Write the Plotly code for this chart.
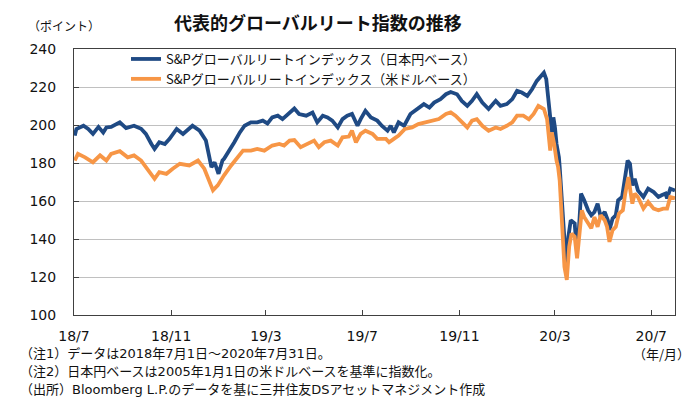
import plotly.graph_objects as go

# ---------------- data ----------------
jpy_dates = [
    "2018-07-02", "2018-07-04", "2018-07-13", "2018-07-19", "2018-07-25", "2018-08-01", "2018-08-07",
    "2018-08-11", "2018-08-17", "2018-08-28", "2018-09-05", "2018-09-15", "2018-09-24", "2018-09-30",
    "2018-10-07", "2018-10-11", "2018-10-17", "2018-10-24", "2018-10-30", "2018-11-08", "2018-11-16",
    "2018-11-28", "2018-12-07", "2018-12-15", "2018-12-22", "2018-12-26", "2018-12-31", "2019-01-05",
    "2019-01-07", "2019-01-14", "2019-01-20", "2019-01-27", "2019-02-02", "2019-02-10", "2019-02-18",
    "2019-02-25", "2019-03-03", "2019-03-09", "2019-03-16", "2019-03-22", "2019-03-31", "2019-04-06",
    "2019-04-12", "2019-04-21", "2019-04-29", "2019-05-05", "2019-05-12", "2019-05-18", "2019-05-24",
    "2019-05-31", "2019-06-06", "2019-06-12", "2019-06-18", "2019-06-25", "2019-06-29", "2019-07-05",
    "2019-07-12", "2019-07-20", "2019-07-26", "2019-08-02", "2019-08-06", "2019-08-10", "2019-08-16",
    "2019-08-23", "2019-08-31", "2019-09-09", "2019-09-17", "2019-09-24", "2019-09-30", "2019-10-08",
    "2019-10-15", "2019-10-21", "2019-10-29", "2019-11-04", "2019-11-11", "2019-11-17", "2019-11-23",
    "2019-11-30", "2019-12-08", "2019-12-17", "2019-12-23", "2019-12-31", "2020-01-07", "2020-01-13",
    "2020-01-19", "2020-01-26", "2020-02-01", "2020-02-07", "2020-02-16", "2020-02-19", "2020-02-21",
    "2020-02-24", "2020-02-26", "2020-02-28", "2020-03-01", "2020-03-03", "2020-03-06", "2020-03-07",
    "2020-03-09", "2020-03-11", "2020-03-13", "2020-03-15", "2020-03-18", "2020-03-21", "2020-03-26",
    "2020-03-28", "2020-03-31", "2020-04-03", "2020-04-07", "2020-04-12", "2020-04-16", "2020-04-20",
    "2020-04-24", "2020-04-28", "2020-05-03", "2020-05-07", "2020-05-09", "2020-05-13", "2020-05-17",
    "2020-05-20", "2020-05-25", "2020-05-28", "2020-06-01", "2020-06-04", "2020-06-07", "2020-06-10",
    "2020-06-14", "2020-06-21", "2020-06-27", "2020-07-04", "2020-07-10", "2020-07-14", "2020-07-19",
    "2020-07-21", "2020-07-25", "2020-07-31",
]
jpy_values = [
    194.4, 197.9, 199.6, 197.9, 195.3, 199.0, 196.0,
    198.7, 199.0, 201.4, 198.4, 199.6, 198.0, 195.3,
    190.0, 187.4, 190.9, 190.0, 192.7, 197.9, 195.3,
    199.6, 197.0, 191.8, 177.8, 180.4, 174.3, 181.3,
    182.2, 186.5, 190.9, 196.1, 199.6, 201.4, 201.4,
    202.3, 200.8, 204.0, 204.9, 203.1, 206.6, 208.7,
    205.8, 204.9, 206.6, 201.4, 204.9, 204.0, 202.3,
    198.7, 203.1, 204.9, 205.8, 199.6, 203.1, 207.5,
    204.0, 202.3, 199.5, 197.0, 199.6, 196.1, 201.4,
    199.6, 205.8, 208.4, 211.0, 209.2, 211.8, 213.6,
    216.2, 217.4, 216.2, 212.7, 210.1, 212.7, 216.2,
    211.8, 208.4, 212.7, 210.1, 211.0, 213.6, 218.0,
    217.1, 215.3, 218.8, 223.2, 227.5, 224.1, 214.5,
    205.8, 196.1, 204.0, 198.7, 190.0, 183.0, 177.8,
    163.9, 151.6, 141.2, 127.2, 141.2, 149.9, 148.2,
    136.8, 142.9, 163.9, 160.4, 155.1, 152.5, 154.2,
    158.6, 151.6, 154.2, 149.9, 144.7, 150.8, 152.5,
    160.4, 162.1, 170.8, 181.3, 179.6, 168.2, 171.7,
    165.6, 162.1, 166.5, 164.7, 162.1, 163.0, 163.9,
    161.3, 166.5, 165.5,
]

usd_dates = [
    "2018-07-02", "2018-07-06", "2018-07-15", "2018-07-25", "2018-08-03", "2018-08-11", "2018-08-17",
    "2018-08-28", "2018-09-07", "2018-09-15", "2018-09-24", "2018-10-02", "2018-10-11", "2018-10-17",
    "2018-10-26", "2018-11-03", "2018-11-12", "2018-11-24", "2018-12-05", "2018-12-13", "2018-12-20",
    "2018-12-24", "2018-12-30", "2019-01-05", "2019-01-07", "2019-01-16", "2019-01-24", "2019-01-31",
    "2019-02-10", "2019-02-18", "2019-02-27", "2019-03-09", "2019-03-18", "2019-03-24", "2019-03-31",
    "2019-04-06", "2019-04-14", "2019-04-23", "2019-05-01", "2019-05-07", "2019-05-14", "2019-05-22",
    "2019-05-31", "2019-06-06", "2019-06-14", "2019-06-18", "2019-06-23", "2019-06-29", "2019-07-05",
    "2019-07-14", "2019-07-20", "2019-07-31", "2019-08-04", "2019-08-10", "2019-08-16", "2019-08-24",
    "2019-09-02", "2019-09-10", "2019-09-19", "2019-09-27", "2019-10-06", "2019-10-15", "2019-10-21",
    "2019-10-27", "2019-11-04", "2019-11-11", "2019-11-17", "2019-11-23", "2019-11-30", "2019-12-08",
    "2019-12-17", "2019-12-23", "2019-12-31", "2020-01-07", "2020-01-13", "2020-01-21", "2020-01-28",
    "2020-02-03", "2020-02-09", "2020-02-16", "2020-02-20", "2020-02-24", "2020-02-26", "2020-02-29",
    "2020-03-03", "2020-03-05", "2020-03-07", "2020-03-09", "2020-03-11", "2020-03-13", "2020-03-16",
    "2020-03-19", "2020-03-22", "2020-03-26", "2020-03-29", "2020-04-01", "2020-04-04", "2020-04-07",
    "2020-04-12", "2020-04-16", "2020-04-20", "2020-04-24", "2020-04-28", "2020-05-03", "2020-05-06",
    "2020-05-09", "2020-05-13", "2020-05-17", "2020-05-21", "2020-05-26", "2020-05-29", "2020-06-02",
    "2020-06-05", "2020-06-07", "2020-06-10", "2020-06-14", "2020-06-21", "2020-06-27", "2020-07-04",
    "2020-07-10", "2020-07-16", "2020-07-21", "2020-07-25", "2020-07-31",
]
usd_values = [
    181.3, 184.8, 183.0, 180.4, 184.0, 181.3, 184.8,
    186.2, 183.0, 184.0, 181.3, 177.0, 171.7, 175.2,
    174.3, 177.0, 179.6, 178.7, 181.3, 177.0, 170.0,
    165.6, 168.2, 172.6, 173.5, 178.7, 183.0, 186.5,
    186.5, 187.4, 186.5, 189.2, 190.0, 189.2, 191.8,
    192.1, 188.3, 190.0, 191.8, 188.3, 190.9, 191.8,
    189.2, 193.5, 193.9, 197.0, 190.9, 195.3, 197.0,
    195.3, 192.7, 192.7, 190.9, 192.7, 194.4, 197.9,
    198.7, 200.5, 201.4, 202.3, 203.1, 205.8, 206.6,
    204.9, 201.4, 198.7, 202.3, 203.1, 199.6, 197.0,
    198.7, 197.9, 199.6, 201.4, 204.9, 204.9, 203.0,
    205.8, 210.1, 208.4, 203.1, 186.5, 196.1, 190.0,
    181.3, 177.8, 170.8, 156.9, 139.4, 125.4, 118.5,
    135.9, 142.9, 141.2, 129.8, 142.9, 155.1, 151.6,
    148.2, 145.6, 151.6, 146.4, 152.5, 149.9, 146.4,
    138.5, 144.7, 146.4, 153.4, 155.1, 163.9, 172.6,
    163.9, 158.6, 163.9, 162.1, 156.0, 159.5, 156.0,
    155.1, 156.0, 156.0, 162.1, 161.5,
]

series_names = [
    "S&Pグローバルリートインデックス（日本円ベース）",
    "S&Pグローバルリートインデックス（米ドルベース）",
]
x_tick_vals = ["2018-07-01", "2018-11-01", "2019-03-01", "2019-07-01", "2019-11-01", "2020-03-01", "2020-07-01"]
x_tick_text = ["18/7", "18/11", "19/3", "19/7", "19/11", "20/3", "20/7"]
y_tick_vals = [100, 120, 140, 160, 180, 200, 220, 240]

title_text = "代表的グローバルリート指数の推移"
y_unit_text = "（ポイント）"
x_unit_text = "（年/月）"
notes = [
    "（注1）データは2018年7月1日～2020年7月31日。",
    "（注2）日本円ベースは2005年1月1日の米ドルベースを基準に指数化。",
    "（出所）Bloomberg L.P.のデータを基に三井住友DSアセットマネジメント作成",
]

# ---------------- style / layout ----------------
OFF = 8  # the page body adds an 8px margin around the figure
W, H = 700 - OFF, 399 - OFF
L, R, T, B = 74 - OFF, 25, 49 - OFF, 84
PW, PH = W - L - R, H - T - B


def px_x(x):
    return (x - OFF - L) / PW


def px_y(y):
    return (H - B - (y - OFF)) / PH


BLUE = "#1f4a84"
ORANGE = "#f79646"
JP = "Noto Sans CJK JP"
NUM = "DejaVu Sans, Noto Sans CJK JP"
TXT = "#111111"

fig = go.Figure()
fig.add_trace(go.Scatter(x=jpy_dates, y=jpy_values, mode="lines", name=series_names[0],
                         line=dict(color=BLUE, width=3.8)))
fig.add_trace(go.Scatter(x=usd_dates, y=usd_values, mode="lines", name=series_names[1],
                         line=dict(color=ORANGE, width=3.8)))

fig.update_layout(
    width=W, height=H,
    margin=dict(l=L, r=R, t=T, b=B),
    paper_bgcolor="white", plot_bgcolor="white",
    showlegend=True,
    legend=dict(x=px_x(126), y=px_y(44), xanchor="left", yanchor="top",
                bgcolor="rgba(0,0,0,0)", font=dict(family=JP, size=13, color=TXT),
                tracegroupgap=0, itemwidth=30),
)

fig.update_xaxes(
    type="date", range=["2018-07-01", "2020-07-31"],
    tickvals=x_tick_vals, ticktext=x_tick_text,
    ticks="inside", ticklen=5, tickcolor="#404040",
    showline=True, linecolor="#404040", linewidth=1, mirror=True,
    showgrid=False, zeroline=False,
    tickfont=dict(family=NUM, size=14, color=TXT),
    ticklabelstandoff=8,
)
fig.update_yaxes(
    range=[100, 240], tickvals=y_tick_vals,
    ticks="inside", ticklen=5, tickcolor="#404040",
    showline=True, linecolor="#404040", linewidth=1, mirror=True,
    showgrid=True, gridcolor="#c0c0c0", gridwidth=1, zeroline=False,
    tickfont=dict(family=NUM, size=14, color=TXT),
    ticklabelstandoff=14,
)

annotations = [
    dict(text="<b>" + title_text + "</b>", x=px_x(318), y=px_y(22), xanchor="center", yanchor="middle",
         font=dict(family=JP, size=18, color=TXT)),
    dict(text=y_unit_text, x=px_x(64), y=px_y(25), xanchor="center", yanchor="middle",
         font=dict(family=JP, size=12, color=TXT)),
    dict(text=x_unit_text, x=px_x(692), y=px_y(353), xanchor="right", yanchor="middle",
         font=dict(family=JP, size=13, color=TXT)),
]
for i, t in enumerate(notes):
    annotations.append(dict(text=t, x=px_x(18), y=px_y(353 + 18 * i), xanchor="left", yanchor="middle",
                            font=dict(family=NUM, size=13, color=TXT)))
for a in annotations:
    a.update(xref="paper", yref="paper", showarrow=False)
fig.update_layout(annotations=annotations)

fig.write_html("out.html")
